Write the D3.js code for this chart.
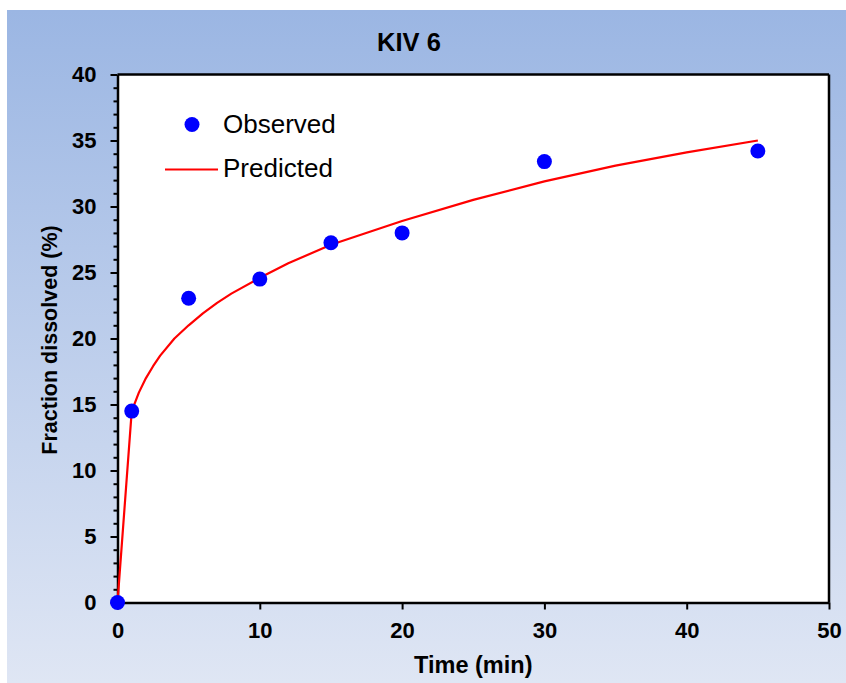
<!DOCTYPE html>
<html><head><meta charset="utf-8">
<script src="https://cdn.jsdelivr.net/npm/d3@7"></script>
<style>html,body{margin:0;padding:0;background:#fff;}svg{display:block;}</style>
</head><body>
<script>
const obsTime = [0, 1, 5, 10, 15, 20, 30, 45];
const obsValue = [0, 14.5, 23.05, 24.5, 27.25, 28.0, 33.4, 34.2];
const predTime = [0, 1, 1.5, 2, 2.5, 3, 4, 5, 6, 7, 8, 10, 12, 15, 20, 25, 30, 35, 40, 45];
const predValue = [0, 14.5, 15.9, 17.0, 17.9, 18.7, 20.0, 21.0, 21.9, 22.7, 23.4, 24.6, 25.7, 27.1, 28.9, 30.5, 31.9, 33.1, 34.1, 35.0];
const xTicks = [0, 10, 20, 30, 40, 50];
const yTicks = [0, 5, 10, 15, 20, 25, 30, 35, 40];
const yMinor = d3.range(0, 41, 1);
const titleText = "KIV 6";
const xTitle = "Time (min)";
const yTitle = "Fraction dissolved (%)";
const legendLabels = ["Observed", "Predicted"];

const W = 846, H = 683;
const svg = d3.select("body").append("svg").attr("width", W).attr("height", H);
const defs = svg.append("defs");
const grad = defs.append("linearGradient").attr("id","bg").attr("x1",0).attr("y1",0).attr("x2",0).attr("y2",1);
grad.append("stop").attr("offset","0%").attr("stop-color","#9bb6e3");
grad.append("stop").attr("offset","100%").attr("stop-color","#dfe6f4");
svg.append("rect").attr("x",7).attr("y",10).attr("width",W-7).attr("height",H-10).attr("fill","url(#bg)");

const L = 117.5, R = 829, T = 74.5, B = 602.5;
const x = d3.scaleLinear().domain([0,50]).range([L,R]);
const y = d3.scaleLinear().domain([0,40]).range([B,T]);

svg.append("rect").attr("x",L).attr("y",T).attr("width",R-L).attr("height",B-T).attr("fill","#fff");

const font = "Liberation Sans, Arial, sans-serif";

// minor y ticks
svg.append("g").attr("transform",`translate(${L},0)`)
  .call(d3.axisLeft(y).tickValues(yMinor.filter(v=>v%5!==0)).tickSize(4).tickFormat(""))
  .call(g=>g.select(".domain").remove())
  .call(g=>g.selectAll("line").attr("stroke","#000").attr("stroke-width",2));

// major y axis
svg.append("g").attr("transform",`translate(${L},0)`)
  .call(d3.axisLeft(y).tickValues(yTicks).tickSize(7).tickSizeOuter(0).tickPadding(14))
  .call(g=>g.select(".domain").attr("stroke","#000").attr("stroke-width",2.5))
  .call(g=>g.selectAll("line").attr("stroke","#000").attr("stroke-width",2))
  .call(g=>g.selectAll("text").attr("font-family",font).attr("font-size",22).attr("font-weight","bold").attr("fill","#000"));

// x axis
svg.append("g").attr("transform",`translate(0,${B})`)
  .call(d3.axisBottom(x).tickValues(xTicks).tickSize(7).tickSizeOuter(0).tickPadding(13))
  .call(g=>g.select(".domain").attr("stroke","#000").attr("stroke-width",2.5))
  .call(g=>g.selectAll("line").attr("stroke","#000").attr("stroke-width",2))
  .call(g=>g.selectAll("text").attr("font-family",font).attr("font-size",22).attr("font-weight","bold").attr("fill","#000"));

// top and right border
svg.append("line").attr("x1",L).attr("x2",R).attr("y1",T).attr("y2",T).attr("stroke","#000").attr("stroke-width",2.5);
svg.append("line").attr("x1",R).attr("x2",R).attr("y1",T).attr("y2",B).attr("stroke","#000").attr("stroke-width",2.5);

// predicted line
const line = d3.line().x((d,i)=>x(predTime[i])).y((d,i)=>y(predValue[i]));
svg.append("path").datum(predValue).attr("d",line).attr("fill","none").attr("stroke","#ff0000").attr("stroke-width",2.2).attr("stroke-linejoin","round");

// observed points
svg.append("g").selectAll("circle").data(obsValue).join("circle")
  .attr("cx",(d,i)=>x(obsTime[i])).attr("cy",d=>y(d)).attr("r",7.5).attr("fill","#0000ff");

// legend
svg.append("circle").attr("cx",192).attr("cy",124.5).attr("r",7.5).attr("fill","#0000ff");
svg.append("text").attr("x",223).attr("y",132.5).text(legendLabels[0])
  .attr("font-family",font).attr("font-size",26).attr("fill","#000");
svg.append("line").attr("x1",165).attr("x2",218).attr("y1",169.5).attr("y2",169.5).attr("stroke","#ff0000").attr("stroke-width",2.2);
svg.append("text").attr("x",223).attr("y",177).text(legendLabels[1])
  .attr("font-family",font).attr("font-size",26).attr("fill","#000");

// titles
svg.append("text").attr("x",409).attr("y",51).attr("text-anchor","middle").text(titleText)
  .attr("font-family",font).attr("font-size",25.5).attr("font-weight","bold").attr("fill","#000");
svg.append("text").attr("x",473.3).attr("y",673).attr("text-anchor","middle").text(xTitle)
  .attr("font-family",font).attr("font-size",23.5).attr("font-weight","bold").attr("fill","#000");
svg.append("text").attr("transform","translate(57,340) rotate(-90)").attr("text-anchor","middle").text(yTitle)
  .attr("font-family",font).attr("font-size",21.5).attr("font-weight","bold").attr("fill","#000");
</script>
</body></html>
